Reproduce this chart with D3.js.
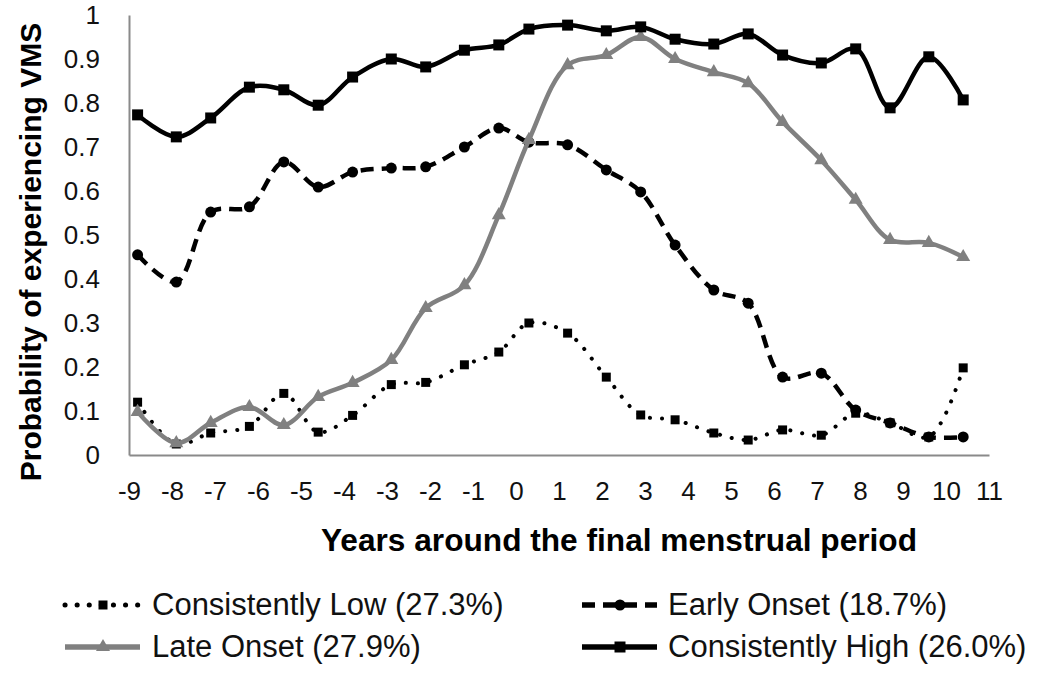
<!DOCTYPE html>
<html>
<head>
<meta charset="utf-8">
<script src="https://cdn.jsdelivr.net/npm/d3@7"></script>
<style>
  html, body { margin: 0; padding: 0; background: #fff; }
  svg { display: block; }
</style>
</head>
<body>
<svg id="chart" width="1050" height="676"></svg>
<script>
// ---- data ----
const years = [-8.8, -7.9, -7.1, -6.2, -5.4, -4.6, -3.8, -2.9, -2.1, -1.2, -0.4, 0.3,
               1.2, 2.1, 2.9, 3.7, 4.6, 5.4, 6.2, 7.1, 7.9, 8.7, 9.6, 10.4];
const consistentlyLow = [0.12, 0.025, 0.05, 0.065, 0.14, 0.052, 0.09, 0.16, 0.165, 0.205, 0.234, 0.30,
                         0.277, 0.177, 0.091, 0.08, 0.05, 0.034, 0.057, 0.045, 0.095, 0.073, 0.041, 0.198];
const earlyOnset = [0.455, 0.393, 0.552, 0.564, 0.666, 0.609, 0.643, 0.652, 0.655, 0.70, 0.743, 0.711,
                    0.705, 0.648, 0.598, 0.477, 0.375, 0.345, 0.177, 0.186, 0.102, 0.073, 0.041, 0.041];
const lateOnset = [0.098, 0.027, 0.073, 0.109, 0.068, 0.132, 0.164, 0.216, 0.334, 0.386, 0.545, 0.716,
                   0.886, 0.909, 0.95, 0.90, 0.87, 0.845, 0.757, 0.67, 0.58, 0.489, 0.482, 0.45];
const consistentlyHigh = [0.773, 0.723, 0.766, 0.836, 0.83, 0.795, 0.859, 0.90, 0.882, 0.92, 0.932, 0.968,
                          0.977, 0.964, 0.973, 0.945, 0.934, 0.957, 0.909, 0.891, 0.923, 0.789, 0.905, 0.807];
const seriesNames = ["Consistently Low (27.3%)", "Early Onset (18.7%)", "Late Onset (27.9%)", "Consistently High (26.0%)"];
const xTickValues = [-9, -8, -7, -6, -5, -4, -3, -2, -1, 0, 1, 2, 3, 4, 5, 6, 7, 8, 9, 10, 11];
const xTickLabels = ["-9", "-8", "-7", "-6", "-5", "-4", "-3", "-2", "-1", "0", "1", "2", "3", "4", "5", "6", "7", "8", "9", "10", "11"];
const yTickValues = [0, 0.1, 0.2, 0.3, 0.4, 0.5, 0.6, 0.7, 0.8, 0.9, 1];
const yTickLabels = ["0", "0.1", "0.2", "0.3", "0.4", "0.5", "0.6", "0.7", "0.8", "0.9", "1"];
const xTitle = "Years around the final menstrual period";
const yTitle = "Probability of experiencing VMS";

// ---- styles ----
const styles = [
  { values: consistentlyLow, color: "#000", width: 4, dash: "0.1 12", cap: "round", symbol: d3.symbolSquare, size: 81 },
  { values: earlyOnset, color: "#000", width: 4.5, dash: "13 8", cap: "butt", symbol: d3.symbolCircle, size: 95 },
  { values: lateOnset, color: "#808080", width: 4.5, dash: null, cap: "butt", symbol: d3.symbolTriangle, size: 85 },
  { values: consistentlyHigh, color: "#000", width: 4.5, dash: null, cap: "butt", symbol: d3.symbolSquare, size: 121 }
];

const svg = d3.select("#chart");
svg.append("rect").attr("width", 1050).attr("height", 676).attr("fill", "#fff");

const x = d3.scaleLinear().domain([-9, 11]).range([129, 989]);
const y = d3.scaleLinear().domain([0, 1]).range([455, 15]);

const FONT = "'Liberation Sans', Arial, sans-serif";

// axes
const xAxis = svg.append("g").attr("transform", `translate(0,${y(0)})`)
  .call(d3.axisBottom(x).tickValues(xTickValues).tickSize(0).tickSizeOuter(0).tickPadding(27)
    .tickFormat((d, i) => xTickLabels[i]));
const yAxis = svg.append("g").attr("transform", `translate(${x(-9)},0)`)
  .call(d3.axisLeft(y).tickValues(yTickValues).tickSize(0).tickSizeOuter(0).tickPadding(29)
    .tickFormat((d, i) => yTickLabels[i]));
[xAxis, yAxis].forEach(g => {
  g.select(".domain").attr("stroke", "#8a8a8a").attr("stroke-width", 2);
  g.selectAll("text").attr("font-family", FONT).attr("font-size", 26).attr("fill", "#111");
});

// titles
svg.append("text").attr("x", 619).attr("y", 551).attr("text-anchor", "middle")
  .attr("font-family", FONT).attr("font-weight", "bold").attr("font-size", 31).attr("fill", "#000")
  .attr("textLength", 596).attr("lengthAdjust", "spacingAndGlyphs")
  .text(xTitle);
svg.append("text").attr("transform", "translate(41,252) rotate(-90)").attr("text-anchor", "middle")
  .attr("font-family", FONT).attr("font-weight", "bold").attr("font-size", 30).attr("fill", "#000")
  .text(yTitle);

// lines + markers
const line = d3.line().x(d => x(d[0])).y(d => y(d[1])).curve(d3.curveCatmullRom.alpha(0.5));
styles.forEach(s => {
  const pts = years.map((yr, i) => [yr, s.values[i]]);
  const g = svg.append("g");
  g.append("path").attr("d", line(pts)).attr("fill", "none").attr("stroke", s.color)
    .attr("stroke-width", s.width).attr("stroke-dasharray", s.dash).attr("stroke-linecap", s.cap)
    .attr("stroke-linejoin", "round");
  g.selectAll("path.m").data(pts).join("path").attr("class", "m")
    .attr("transform", d => `translate(${x(d[0])},${y(d[1])})`)
    .attr("d", d3.symbol().type(s.symbol).size(s.size)).attr("fill", s.color);
});

// legend
const legendPos = [
  { lx: 65, tx: 152, y: 605 },
  { lx: 582, tx: 668, y: 605 },
  { lx: 65, tx: 152, y: 647 },
  { lx: 582, tx: 668, y: 647 }
];
styles.forEach((s, i) => {
  const p = legendPos[i];
  const g = svg.append("g");
  g.append("line").attr("x1", p.lx).attr("x2", p.lx + 75).attr("y1", p.y).attr("y2", p.y)
    .attr("stroke", s.color).attr("stroke-width", s.width + 1).attr("stroke-dasharray", s.dash)
    .attr("stroke-linecap", s.cap);
  g.append("path").attr("transform", `translate(${p.lx + 38},${p.y})`)
    .attr("d", d3.symbol().type(s.symbol).size(s.size)).attr("fill", s.color);
  g.append("text").attr("x", p.tx).attr("y", p.y + 10).attr("font-family", FONT)
    .attr("font-size", 31).attr("fill", "#111").text(seriesNames[i]);
});
</script>
</body>
</html>
